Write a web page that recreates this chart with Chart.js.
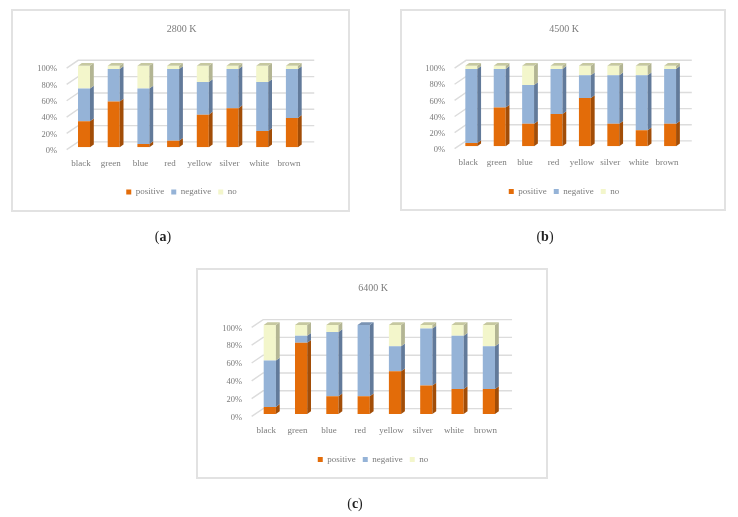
<!DOCTYPE html>
<html><head><meta charset="utf-8">
<script src="https://cdn.jsdelivr.net/npm/chart.js@4/dist/chart.umd.min.js"></script>
<style>
html,body{margin:0;padding:0;background:#fff;width:738px;height:517px;overflow:hidden}
#page{position:relative;width:738px;height:517px;filter:blur(0.35px)}
.frame{position:absolute;box-sizing:border-box;border:2px solid #e2e2e2;background:#fff}
canvas{position:absolute}
.cap{position:absolute;font:14px "Liberation Serif",serif;color:#222;transform:translateX(-50%);line-height:14px}
</style></head>
<body><div id="page"></div>
<script>
const categories = ['black','green','blue','red','yellow','silver','white','brown'];
const seriesNames = ['positive','negative','no'];
const tickLabels = ['0%','20%','40%','60%','80%','100%'];

const positive2800 = [32,56,4,8,40,48,20,36];
const negative2800 = [40,40,68,88,40,48,60,60];
const no2800       = [28,4,28,4,20,4,20,4];

const positive4500 = [4,48,28,40,60,28,20,28];
const negative4500 = [92,48,48,56,28,60,68,68];
const no4500       = [4,4,24,4,12,12,12,4];

const positive6400 = [8,80,20,20,48,32,28,28];
const negative6400 = [52,8,72,80,28,64,60,48];
const no6400       = [40,12,8,0,24,4,12,24];

const fronts = ['#e36c09','#95b3d7','#f3f6cb'];
const sides  = ['#a24d07','#627a9a','#b3b593'];
const tops   = ['#b85808','#7a93b3','#c6c8a0'];
const FONT = '"Liberation Serif", serif';
const TXT = '#7c7c7c';

const depth3d = {
  id:'depth3d',
  beforeDatasetsDraw(chart){
    const {ctx,chartArea:a,scales:{y}} = chart;
    ctx.save();
    ctx.strokeStyle='#dcdcdc'; ctx.lineWidth=1.4;
    for(const t of y.ticks){
      const p=y.getPixelForValue(t.value);
      ctx.beginPath();
      ctx.moveTo(a.left-2.5,p+2.4);
      ctx.lineTo(a.left+9,p-5.4);
      ctx.lineTo(a.right+7.5,p-5.4);
      ctx.stroke();
    }
    ctx.restore();
  },
  afterDatasetsDraw(chart){
    const {ctx} = chart;
    const dx=3.8, dy=2.8;
    ctx.save();
    const n=chart.data.labels.length;
    for(let i=0;i<n;i++){
      let topIdx=-1;
      chart.data.datasets.forEach((ds,d)=>{
        if(ds.data[i]<=0) return;
        topIdx=d;
        const b=chart.getDatasetMeta(d).data[i];
        const r=b.x+b.width/2;
        ctx.fillStyle=sides[d];
        ctx.beginPath();
        ctx.moveTo(r,b.base);ctx.lineTo(r+dx,b.base-dy);ctx.lineTo(r+dx,b.y-dy);ctx.lineTo(r,b.y);
        ctx.closePath();ctx.fill();
      });
      if(topIdx>=0){
        const b=chart.getDatasetMeta(topIdx).data[i];
        const l=b.x-b.width/2,r=b.x+b.width/2;
        ctx.fillStyle=tops[topIdx];
        ctx.beginPath();
        ctx.moveTo(l,b.y);ctx.lineTo(l+dx,b.y-dy);ctx.lineTo(r+dx,b.y-dy);ctx.lineTo(r,b.y);
        ctx.closePath();ctx.fill();
      }
    }
    ctx.restore();
  }
};

const page=document.getElementById('page');

function panel(title,s,g){
  const fr=document.createElement('div');
  fr.className='frame';
  fr.style.cssText=`left:${g.x}px;top:${g.y}px;width:${g.w}px;height:${g.h}px`;
  page.appendChild(fr);
  const c=document.createElement('canvas');
  c.width=g.w;c.height=g.h;
  c.style.cssText=`left:${g.x}px;top:${g.y}px;width:${g.w}px;height:${g.h}px`;
  page.appendChild(c);
  new Chart(c,{
    type:'bar',
    data:{labels:categories,datasets:s.map((v,i)=>({
      label:seriesNames[i],data:v,backgroundColor:fronts[i],borderWidth:0,
      categoryPercentage:1,barPercentage:g.bar}))},
    plugins:[depth3d],
    options:{
      responsive:false,animation:false,devicePixelRatio:1,
      layout:{padding:{left:2,top:0,right:0,bottom:g.pb}},
      plugins:{
        tooltip:{enabled:false},
        title:{display:true,text:title,color:TXT,font:{family:FONT,size:10,weight:'normal'},
          padding:{top:g.tt,bottom:g.tb}},
        legend:{display:true,position:'bottom',
          labels:{boxWidth:5,boxHeight:5,padding:7,color:TXT,font:{family:FONT,size:9}}}
      },
      scales:{
        x:{stacked:true,grid:{display:false},border:{display:false},
          ticks:{color:TXT,font:{family:FONT,size:9},padding:3,labelOffset:g.xo,autoSkip:false,maxRotation:0,minRotation:0},
          afterFit(sc){sc.height=g.xh;}},
        y:{stacked:true,min:0,max:100,grid:{display:false},border:{display:false},
          ticks:{stepSize:20,color:TXT,font:{family:FONT,size:8.5},padding:4,labelOffset:3.4,
            callback:(v)=>tickLabels[v/20]},
          afterFit(sc){sc.width=g.yw-2;}},
        rightGap:{type:'linear',position:'right',display:true,grid:{display:false},border:{display:false},
          ticks:{display:false},afterFit(sc){sc.width=g.rpad;}}
      }
    }
  });
}

panel('2800 K',[positive2800,negative2800,no2800],
  {x:11,y:9,w:339,h:203,bar:0.404,rpad:43.25,pb:5.4,tt:14,tb:30.7,xo:-3,xh:33.3,yw:58.15});
panel('4500 K',[positive4500,negative4500,no4500],
  {x:400,y:9,w:326,h:202,bar:0.42,rpad:41.7,pb:5,tt:14,tb:30.7,xo:-3,xh:33.7,yw:57.1});
panel('6400 K',[positive6400,negative6400,no6400],
  {x:196,y:268,w:352,h:211,bar:0.39,rpad:43.45,pb:5,tt:14,tb:31,xo:-3.5,xh:34,yw:58.15});

[['a',163,230],['b',545,230],['c',355,497]].forEach(([t,x,y])=>{
  const d=document.createElement('div');
  d.className='cap';
  d.style.left=x+'px';d.style.top=y+'px';
  d.innerHTML='(<b>'+t+'</b>)';
  page.appendChild(d);
});
</script></body></html>
